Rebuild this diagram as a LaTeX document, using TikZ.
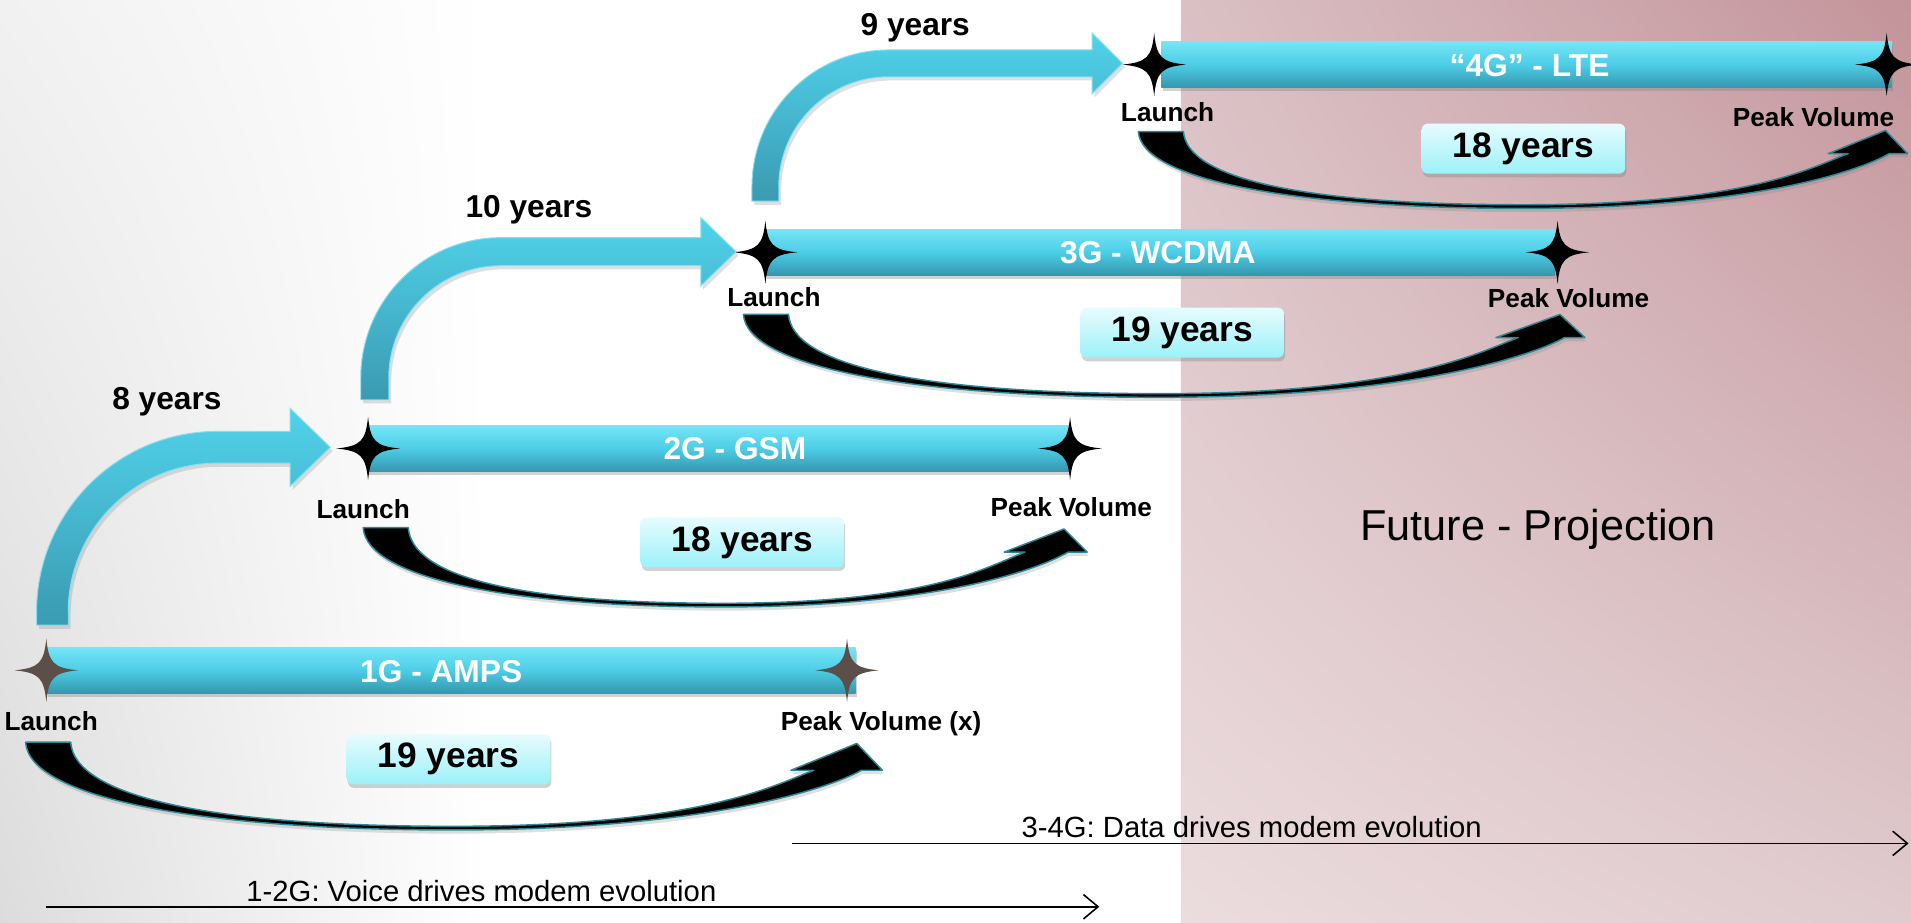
\documentclass[tikz,border=0pt]{standalone}
\usepackage{fontspec}
\setmainfont{Liberation Sans}
\usetikzlibrary{arrows.meta,shadows,shadings}

\definecolor{barlight}{HTML}{74E6F6}
\definecolor{barmid}{HTML}{4CCDE6}
\definecolor{bardark}{HTML}{3596AD}
\definecolor{boxlight}{HTML}{E6FCFE}
\definecolor{boxdark}{HTML}{9CF1F9}
\definecolor{bendlight}{HTML}{50D3EB}
\definecolor{benddark}{HTML}{3A9AB1}
\definecolor{rimteal}{HTML}{2B8794}
\definecolor{starbrown}{HTML}{5C4F49}
\definecolor{greyUL}{HTML}{F1F1F1}
\definecolor{greyLL}{HTML}{DCDCDC}
\definecolor{pinkUL}{HTML}{DAC0C4}
\definecolor{pinkUR}{HTML}{C3949A}
\definecolor{pinkLL}{HTML}{EBDCDE}
\definecolor{pinkLR}{HTML}{E0CBCE}

\tikzset{
  techbar/.style={top color=barlight, bottom color=bardark, middle color=barmid,
    drop shadow={opacity=0.35, shadow xshift=1pt, shadow yshift=-3pt}},
  bartext/.style={text=white, font=\bfseries\fontsize{26}{30}\selectfont},
  milestone/.style={font=\bfseries\fontsize{21.5}{24}\selectfont},
  gaptext/.style={font=\bfseries\fontsize{26}{30}\selectfont},
  yearbox/.style={rounded corners=5pt, top color=boxlight, bottom color=boxdark,
    minimum width=167pt, minimum height=41pt, inner sep=0pt,
    font=\bfseries\fontsize{29}{32}\selectfont,
    drop shadow={opacity=0.35, shadow xshift=1pt, shadow yshift=-3pt}},
  lifearrow/.style={fill=black, draw=rimteal, line width=1.2pt, line join=round,
    drop shadow={opacity=0.25, shadow xshift=1pt, shadow yshift=-3pt}},
  gaparrow/.style={top color=bendlight, bottom color=benddark, draw=bendlight!70!white,
    line width=0.8pt, drop shadow={opacity=0.25, shadow xshift=2pt, shadow yshift=-3pt}},
  trendtext/.style={font=\fontsize{24}{28}\selectfont},
  trend/.style={line width=1.3pt, -{Straight Barb[length=12pt,width=20pt,line width=1.3pt]}},
  sparkle/.pic={\path[pic actions] (0,-26) .. controls (2,-6) and (6,-2) .. (26,0)
    .. controls (6,2) and (2,6) .. (0,26) .. controls (-2,6) and (-6,2) .. (-26,0)
    .. controls (-6,-2) and (-2,-6) .. (0,-26) -- cycle;}
}

\begin{document}
\begin{tikzpicture}[x=1pt,y=-1pt]
    \useasboundingbox (0,0) rectangle (1568,757);

    % Background: plain slide and the projection panel
    \fill[white] (0,0) rectangle (969,757);
    \shade[upper left=greyUL, lower left=greyLL, upper right=white, lower right=white] (0,0) rectangle (400,757);
    \shade[upper left=pinkUL, upper right=pinkUR, lower left=pinkLL, lower right=pinkLR] (969,0) rectangle (1568,757);

    % Technology bars
    \foreach \xa/\xb/\yc in {38/702/550, 302/878/368, 628/1276/207, 953/1552/53}
        \path[techbar] (\xa,\yc-19) rectangle (\xb,\yc+19);

    % Launch and peak stars
    \foreach \x/\y/\c in {38/550/starbrown, 695/550/starbrown, 302/368/black, 878/368/black,
                          628/207/black, 1278/207/black, 947/53/black, 1548/53/black}
        \pic[fill=\c] at (\x,\y) {sparkle};

    % Bent arrows from one launch to the next
    \foreach \bendx/\bendw/\bendlow/\bendtop/\bendr/\headx/\tipx/\headh in
        {30/26/513/354/148/238/271/32, 296/23/328/195/115/575/604/28, 617/22/165/41/112/896/921/25}{
        \pgfmathsetmacro{\midy}{\bendtop+\bendw/2}
        \pgfmathsetmacro{\kout}{0.552*\bendr}
        \pgfmathsetmacro{\kin}{0.552*(\bendr-\bendw)}
        \pgfmathsetmacro{\xin}{\bendx+\bendw}
        \pgfmathsetmacro{\xc}{\bendx+\bendr}
        \pgfmathsetmacro{\yc}{\bendtop+\bendr}
        \pgfmathsetmacro{\yin}{\bendtop+\bendw}
        \path[gaparrow] (\bendx,\bendlow) -- (\bendx,\yc)
            .. controls (\bendx,\yc-\kout) and (\xc-\kout,\bendtop) .. (\xc,\bendtop)
            -- (\headx,\bendtop) -- (\headx,\midy-\headh) -- (\tipx,\midy) -- (\headx,\midy+\headh)
            -- (\headx,\yin) -- (\xc,\yin)
            .. controls (\xc-\kin,\yin) and (\xin,\yc-\kin) .. (\xin,\yc)
            -- (\xin,\bendlow) -- cycle;
    }

    % Launch to peak volume arrows
    \foreach \tailx/\taily/\lowy/\midx/\tipx/\tipy/\barby/\headw in
        {21/609/681/372/703/610/632/75, 298/433/498/593/873/434/453/68,
         610/258/326/952/1280/258/277/73, 934/108/171/1250/1547/107/126/65}{
        \pgfmathsetmacro{\outx}{\tipx+0.05*\headw}
        \pgfmathsetmacro{\inx}{\tipx-0.47*\headw}
        \pgfmathsetmacro{\barbl}{\tipx-0.72*\headw}
        \pgfmathsetmacro{\barbr}{\tipx+0.28*\headw}
        \pgfmathsetmacro{\reach}{0.3*(\outx-\tailx)}
        \pgfmathsetmacro{\dropa}{\taily+0.64*(\lowy-\taily)}
        \pgfmathsetmacro{\dropb}{\taily+0.6*(\lowy-\taily)}
        \draw[lifearrow] (\tailx,\taily)
            .. controls (\tailx+3,\dropa) and (\midx-\reach,\lowy) .. (\midx,\lowy)
            .. controls (\midx+\reach,\lowy) and (\outx-26,\barby+15) .. (\outx,\barby)
            -- (\barbr,\barby) -- (\tipx,\tipy) -- (\barbl,\barby) -- (\inx,\barby)
            .. controls (\inx-30,\barby+11) and (\midx+\reach,\lowy-3) .. (\midx,\lowy-3)
            .. controls (\midx-\reach,\lowy-3) and (\tailx+40,\dropb) .. (\tailx+37,\taily) -- cycle;
    }

    % Generation names
    \node[bartext] (gen1) at (362,551) {1G - AMPS};
    \node[bartext] (gen2) at (603,368) {2G - GSM};
    \node[bartext] (gen3) at (950,207) {3G - WCDMA};
    \node[bartext] (gen4) at (1255,54) {“4G” - LTE};

    % Milestone labels
    \node[milestone] (launch1) at (42,592) {Launch};
    \node[milestone] (launch2) at (298,418) {Launch};
    \node[milestone] (launch3) at (635,244) {Launch};
    \node[milestone] (launch4) at (958,92) {Launch};
    \node[milestone] (peak1) at (723,594) {Peak Volume (x)};
    \node[milestone] (peak2) at (879,416) {Peak Volume};
    \node[milestone] (peak3) at (1287,245) {Peak Volume};
    \node[milestone] (peak4) at (1488,96) {Peak Volume};

    % Lifetimes
    \node[yearbox] (life1) at (368,623) {19 years};
    \node[yearbox] (life2) at (609,445) {18 years};
    \node[yearbox] (life3) at (970,273) {19 years};
    \node[yearbox] (life4) at (1250,122) {18 years};

    % Time between launches
    \node[gaptext] (gap1) at (137,330) {8 years};
    \node[gaptext] (gap2) at (434,172) {10 years};
    \node[gaptext] (gap3) at (751,23) {9 years};

    \node[font=\fontsize{35.5}{40}\selectfont] (future) at (1262,434) {Future - Projection};

    % Drivers of modem evolution
    \coordinate (datastart) at (650,692);
    \coordinate (dataend) at (1566,692);
    \draw[trend] (datastart) -- (dataend);
    \node[trendtext] (data) at (1027,679) {3-4G: Data drives modem evolution};
    \coordinate (voicestart) at (38,744);
    \coordinate (voiceend) at (902,744);
    \draw[trend] (voicestart) -- (voiceend);
    \node[trendtext] (voice) at (395,731) {1-2G: Voice drives modem evolution};
\end{tikzpicture}
\end{document}
